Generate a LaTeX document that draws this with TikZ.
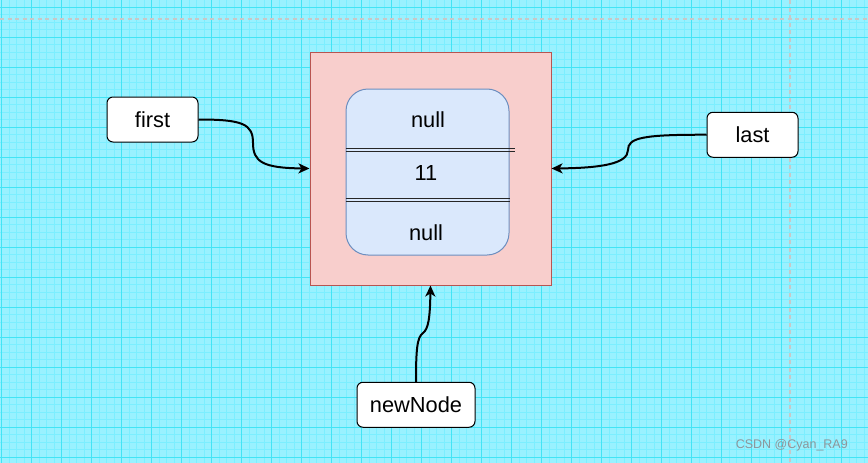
\documentclass[tikz,border=0pt]{standalone}
\usepackage{fontspec}
\setmainfont{Liberation Sans}
\usetikzlibrary{arrows.meta}
\definecolor{bgc}{RGB}{153,241,255}
\definecolor{minorc}{RGB}{124,238,255}
\definecolor{majorc}{RGB}{66,228,245}
\definecolor{pagec}{RGB}{200,200,200}
\definecolor{redfill}{RGB}{248,206,204}
\definecolor{redline}{RGB}{184,84,80}
\definecolor{bluefill}{RGB}{218,232,252}
\definecolor{blueline}{RGB}{108,142,191}
\definecolor{wmark}{RGB}{140,150,155}
\tikzset{
  lbl/.style={draw=black, line width=1pt, fill=white, rounded corners=6pt, minimum height=45pt, inner sep=0pt, font=\fontsize{21.8}{26}\selectfont},
  txt/.style={inner sep=0pt, font=\fontsize{21.8}{26}\selectfont},
  conn/.style={line width=2pt, -{Stealth[length=11pt,width=10pt,inset=3pt]}},
  sep/.style={line width=1pt, black!85}
}
\begin{document}
\begin{tikzpicture}[x=1pt,y=-1pt]
\useasboundingbox (0,0) rectangle (868,463);
\fill[bgc] (0,0) rectangle (868,463);
% minor grid
\foreach \i in {0,...,115} \draw[minorc, line width=0.7pt] (1.7+7.5*\i,0) -- (1.7+7.5*\i,463);
\foreach \j in {0,...,62} \draw[minorc, line width=0.7pt] (0,-0.2+7.5*\j) -- (868,-0.2+7.5*\j);
% major grid
\foreach \i in {0,...,28} \draw[majorc, line width=1pt] (1.7+30*\i,0) -- (1.7+30*\i,463);
\foreach \j in {0,...,15} \draw[majorc, line width=1pt] (0,7.3+30*\j) -- (868,7.3+30*\j);
% page break lines
\draw[pagec, line width=1.2pt, dash pattern=on 4pt off 3.5pt] (0,19) -- (868,19);
\draw[pagec, line width=1.2pt, dash pattern=on 4pt off 3.5pt] (790,0) -- (790,463);

% outer red box
\node[draw=redline, fill=redfill, line width=1pt, minimum width=241pt, minimum height=233pt, inner sep=0pt] (box) at (430.5,168.5) {};
% inner blue rounded box
\node[draw=blueline, fill=bluefill, line width=1pt, rounded corners=22pt, minimum width=163pt, minimum height=166pt, inner sep=0pt] (inner) at (427.5,172) {};
% separators (double lines)
\draw[sep] (inner.west |- 0,148) -- (515,148);
\draw[sep] (inner.west |- 0,151.5) -- (515,151.5);
\draw[sep] (inner.west |- 0,198) -- (inner.east |- 0,198);
\draw[sep] (inner.west |- 0,201.5) -- (inner.east |- 0,201.5);
% texts
\node[txt] (prev) at (428,120) {null};
\node[txt] (val) at (426,172.5) {11};
\node[txt] (next) at (426,232.5) {null};

% label nodes
\node[lbl, minimum width=91pt] (first) at (152.5,119.5) {first};
\node[lbl, minimum width=91pt] (last) at (752.5,134.75) {last};
\node[lbl, minimum width=118pt] (newNode) at (416,404.75) {newNode};

% connectors
\draw[conn] (first.east) .. controls (243,119.5) and (253,124) .. (253,143)
  .. controls (253,162) and (263,168) .. (box.west);
\draw[conn] (last.west) .. controls (642,134.5) and (628,138) .. (628,150)
  .. controls (628,164) and (600,168) .. (box.east);
\draw[conn] (newNode.north) .. controls (416,350) and (417,337) .. (423,333)
  .. controls (428,329) and (430,320) .. (box.south);

% watermark
\node[inner sep=0pt, anchor=east, text=wmark, font=\fontsize{12.5}{14}\selectfont] (wm) at (848,445.5) {CSDN @Cyan\_RA9};
\end{tikzpicture}
\end{document}
